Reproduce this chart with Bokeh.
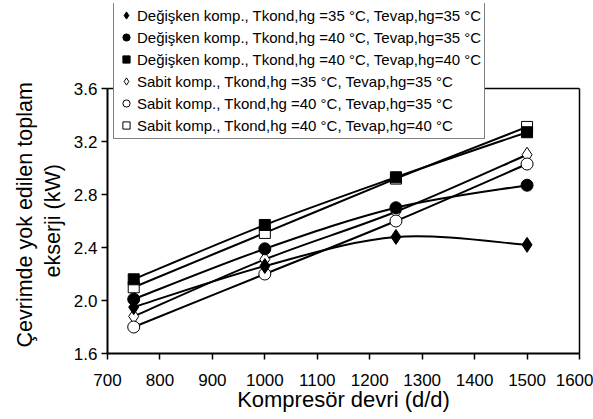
from bokeh.plotting import figure
from bokeh.models import (Legend, LegendItem, FixedTicker, PrintfTickFormatter, ColumnDataSource,
                          LinearAxis, Span, Title)
from bokeh.embed import file_html
from bokeh.resources import INLINE

# ---- data ----
rpm = [750, 1000, 1250, 1500]
dk_35_35 = [1.95, 2.26, 2.48, 2.42]
dk_40_35 = [2.01, 2.39, 2.70, 2.87]
dk_40_40 = [2.16, 2.57, 2.93, 3.27]
sk_35_35 = [1.88, 2.31, 2.67, 3.10]
sk_40_35 = [1.80, 2.20, 2.60, 3.03]
sk_40_40 = [2.10, 2.51, 2.92, 3.31]

labels = [
    "Değişken komp., Tkond,hg =35 °C, Tevap,hg=35 °C",
    "Değişken komp., Tkond,hg =40 °C, Tevap,hg=35 °C",
    "Değişken komp., Tkond,hg =40 °C, Tevap,hg=40 °C",
    "Sabit komp., Tkond,hg =35 °C, Tevap,hg=35 °C",
    "Sabit komp., Tkond,hg =40 °C, Tevap,hg=35 °C",
    "Sabit komp., Tkond,hg =40 °C, Tevap,hg=40 °C",
]
series = [dk_35_35, dk_40_35, dk_40_40, sk_35_35, sk_40_35, sk_40_40]

x_ticks = [700, 800, 900, 1000, 1100, 1200, 1300, 1400, 1500, 1600]
y_ticks = [1.6, 2.0, 2.4, 2.8, 3.2, 3.6]
y_title_1 = "Çevrimde yok edilen toplam"
y_title_2 = "ekserji (kW)"
x_title = "Kompresör devri (d/d)"

FONT = "Liberation Sans"

# plot area: 1.6..3.6 over 265 px; frame extended upward so the legend can sit above 3.6
Y0, Y1 = y_ticks[0], y_ticks[-1]
PX_PLOT = 265.0
TOP_EXTRA = 85.0
y_end = Y1 + TOP_EXTRA * (Y1 - Y0) / PX_PLOT

p = figure(width=593, height=419, output_backend="svg", toolbar_location=None,
           x_range=(x_ticks[0], x_ticks[-1]), y_range=(Y0, y_end),
           min_border_left=107, min_border_right=14, min_border_top=3, min_border_bottom=66)
p.xgrid.visible = False
p.ygrid.visible = False
p.outline_line_color = None
p.background_fill_color = "white"
p.border_fill_color = "white"

for ax in (p.xaxis[0], p.yaxis[0]):
    ax.axis_line_width = 2
    ax.axis_line_color = "black"
    ax.major_tick_line_width = 1.5
    ax.major_tick_out = 6
    ax.major_tick_in = 0
    ax.minor_tick_out = 0
    ax.minor_tick_in = 0
    ax.major_label_text_font = FONT
    ax.major_label_text_font_size = "17px"
    ax.major_label_text_color = "black"
    ax.axis_label_text_font = FONT
    ax.axis_label_text_font_size = "22px"
    ax.axis_label_text_font_style = "normal"
    ax.axis_label_text_color = "black"

p.xaxis.ticker = FixedTicker(ticks=x_ticks)
p.yaxis.ticker = FixedTicker(ticks=y_ticks)
p.yaxis.bounds = (Y0, Y1)
p.yaxis.formatter = PrintfTickFormatter(format="%.1f")
p.xaxis.axis_label = x_title
p.xaxis.major_label_standoff = 14
p.yaxis.major_label_standoff = 4
p.xaxis.axis_label_standoff = -2

# right border of the plot area
rax = LinearAxis(ticker=FixedTicker(ticks=[]), bounds=(Y0, Y1), axis_line_width=1.5,
                 axis_line_color="black", major_tick_out=0, major_tick_in=0,
                 minor_tick_out=0, minor_tick_in=0)
p.add_layout(rax, "right")
# top border of the plot area
p.add_layout(Span(location=Y1, dimension="width", line_color="black", line_width=1.5))

# y-axis title as two lines
t2 = Title(text=y_title_2, align="left", text_font=FONT, text_font_size="21.5px",
           text_font_style="normal", text_color="black", offset=76, standoff=11)
t1 = Title(text=y_title_1, align="left", text_font=FONT, text_font_size="21.5px",
           text_font_style="normal", text_color="black", offset=6, standoff=-7)
p.add_layout(t2, "left")
p.add_layout(t1, "left")


def smooth(xs, ys):
    n = len(xs)
    x0, y0, x1, y1, cx0, cy0, cx1, cy1 = [], [], [], [], [], [], [], []
    for i in range(n - 1):
        im1 = max(i - 1, 0)
        ip2 = min(i + 2, n - 1)
        x0.append(xs[i]); y0.append(ys[i])
        x1.append(xs[i + 1]); y1.append(ys[i + 1])
        cx0.append(xs[i] + (xs[i + 1] - xs[im1]) / 6.0)
        cy0.append(ys[i] + (ys[i + 1] - ys[im1]) / 6.0)
        cx1.append(xs[i + 1] - (xs[ip2] - xs[i]) / 6.0)
        cy1.append(ys[i + 1] - (ys[ip2] - ys[i]) / 6.0)
    return dict(x0=x0, y0=y0, x1=x1, y1=y1, cx0=cx0, cy0=cy0, cx1=cx1, cy1=cy1)


for ys in series:
    src = ColumnDataSource(smooth(rpm, ys))
    p.bezier(x0="x0", y0="y0", x1="x1", y1="y1", cx0="cx0", cy0="cy0", cx1="cx1", cy1="cy1",
             source=src, line_color="black", line_width=2)

styles = [
    dict(marker="diamond", size=15, fill_color="black"),
    dict(marker="circle", size=12, fill_color="black"),
    dict(marker="square", size=11, fill_color="black"),
    dict(marker="diamond", size=15, fill_color="white"),
    dict(marker="circle", size=12, fill_color="white"),
    dict(marker="square", size=11, fill_color="white"),
]

order = [3, 4, 5, 0, 1, 2]
renderers = {}
for i in order:
    st = styles[i]
    r = p.scatter(rpm, series[i], marker=st["marker"], size=st["size"],
                  fill_color=st["fill_color"], line_color="black", line_width=1)
    renderers[i] = r
items = [LegendItem(label=labels[i], renderers=[renderers[i]]) for i in range(6)]

legend = Legend(items=items, location=(6, 214), orientation="vertical",
                label_text_font=FONT, label_text_font_size="15px", label_text_color="black",
                glyph_width=18, glyph_height=20, label_height=20, label_standoff=2,
                spacing=2, padding=3, margin=0,
                border_line_color="black", border_line_width=1.5,
                background_fill_color="white", background_fill_alpha=1.0)
p.add_layout(legend, "center")

open("out.html", "w").write(file_html(p, INLINE))
